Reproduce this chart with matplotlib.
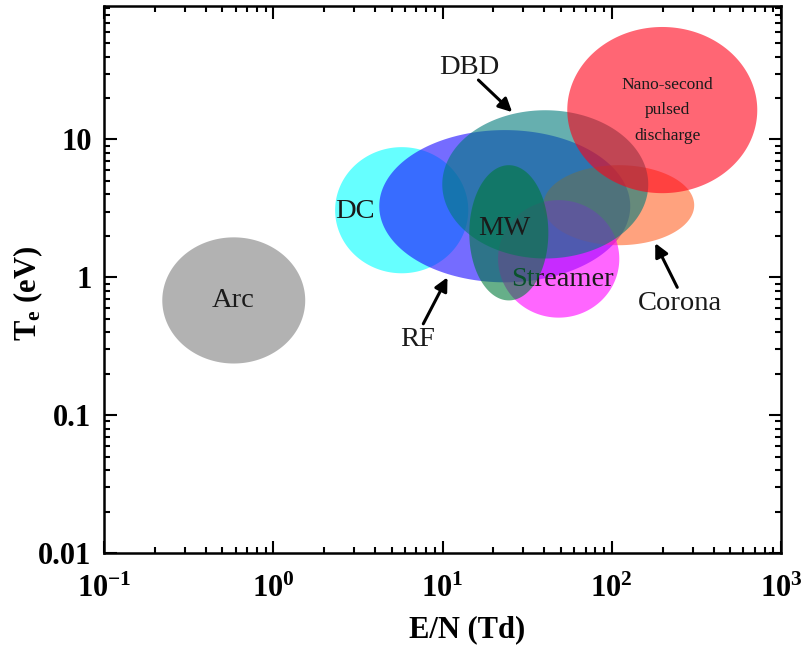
import numpy as np
import matplotlib
matplotlib.use("Agg")
import matplotlib.pyplot as plt
from matplotlib.ticker import FixedLocator, FixedFormatter, LogLocator, NullFormatter

plt.rcParams['font.family'] = ['Liberation Serif', 'DejaVu Serif']
plt.rcParams['mathtext.fontset'] = 'custom'
plt.rcParams['mathtext.rm'] = 'Liberation Serif:bold'
plt.rcParams['mathtext.it'] = 'Liberation Serif:bold'
plt.rcParams['mathtext.bf'] = 'Liberation Serif:bold'
plt.rcParams['axes.unicode_minus'] = False

# Discharge regions: ranges of E/N (Td) and Te (eV)
names    = ["Arc", "DC", "RF", "Corona", "Streamer", "DBD", "MW", "Nano"]
en_min   = [0.221, 2.32, 4.23, 39.4, 21.3, 9.97, 14.4, 54.6]
en_max   = [1.545, 14.2, 128.6, 307.0, 110.8, 164.3, 42.2, 724.0]
te_min   = [0.237, 1.07, 0.92, 1.71, 0.51, 1.37, 0.68, 4.08]
te_max   = [1.95, 8.8, 11.7, 6.51, 3.63, 16.3, 6.51, 65.5]
colors   = ["#808080", "#00FFFF", "#1a0aff", "#FF6428", "#FF00FF", "#007a7a", "#007a3a", "#FF0018"]
layer    = [1.0, 1.1, 1.2, 1.3, 1.4, 1.5, 1.7, 1.9]

xticks = [0.1, 1, 10, 100, 1000]
xticklabels = [r"$10^{-1}$", r"$10^{0}$", r"$10^{1}$", r"$10^{2}$", r"$10^{3}$"]
yticks = [0.01, 0.1, 1, 10]
yticklabels = ["0.01", "0.1", "1", "10"]

fig = plt.figure(figsize=(8.02, 6.51), dpi=100)
ax = fig.add_axes([104/802, 1-553/651, 677/802, 547/651])
ax.set_xscale('log')
ax.set_yscale('log')
ax.set_xlim(0.1, 1000)
ax.set_ylim(0.01, 93)

t = np.linspace(0, 2*np.pi, 400)
for n, x0, x1, y0, y1, c, z in zip(names, en_min, en_max, te_min, te_max, colors, layer):
    lx0, lx1, ly0, ly1 = np.log10([x0, x1, y0, y1])
    cx, cy = (lx0+lx1)/2, (ly0+ly1)/2
    a, b = (lx1-lx0)/2, (ly1-ly0)/2
    ax.fill(10**(cx + a*np.cos(t)), 10**(cy + b*np.sin(t)), color=c, alpha=0.6, lw=0, zorder=z)

tc = '#1a1a1a'
fs = 20.5
ax.text(0.58, 0.68, "Arc", fontsize=fs, ha='center', va='center', color=tc, zorder=3)
ax.text(3.05, 3.0, "DC", fontsize=fs, ha='center', va='center', color=tc, zorder=3)
ax.text(51, 0.97, "Streamer", fontsize=fs, ha='center', va='center', color=tc, zorder=1.6)
ax.text(23.2, 2.25, "MW", fontsize=fs, ha='center', va='center', color=tc, zorder=1.8)
ax.text(212.8, 16.3, "Nano-second\npulsed\ndischarge", fontsize=12.5, ha='center', va='center',
        color=tc, linespacing=1.8, zorder=3)
ap = dict(arrowstyle='-|>', lw=2.2, color='black', mutation_scale=20, shrinkA=0, shrinkB=0)
ax.text(14.4, 33.5, "DBD", fontsize=fs, ha='center', va='center', color=tc, zorder=3)
ax.annotate("", xy=(25.8, 15.8), xytext=(16.3, 27), arrowprops=ap, zorder=3)
ax.text(7.1, 0.355, "RF", fontsize=fs, ha='center', va='center', color=tc, zorder=3)
ax.annotate("", xy=(10.7, 1.0), xytext=(7.7, 0.46), arrowprops=ap, zorder=3)
ax.text(252, 0.65, "Corona", fontsize=fs, ha='center', va='center', color=tc, zorder=3)
ax.annotate("", xy=(180.7, 1.77), xytext=(243.8, 0.846), arrowprops=ap, zorder=3)

ax.xaxis.set_major_locator(FixedLocator(xticks))
ax.xaxis.set_major_formatter(FixedFormatter(xticklabels))
ax.xaxis.set_minor_locator(LogLocator(base=10, subs=np.arange(2, 10), numticks=20))
ax.xaxis.set_minor_formatter(NullFormatter())
ax.yaxis.set_major_locator(FixedLocator(yticks))
ax.yaxis.set_major_formatter(FixedFormatter(yticklabels))
ax.yaxis.set_minor_locator(LogLocator(base=10, subs=np.arange(2, 10), numticks=20))
ax.yaxis.set_minor_formatter(NullFormatter())

ax.tick_params(which='both', direction='in', top=True, right=True, width=1.5, colors='black')
ax.tick_params(which='major', length=9)
ax.tick_params(which='minor', length=4.5)
ax.tick_params(axis='x', which='major', pad=16, labelsize=22)
ax.tick_params(axis='y', which='major', pad=9, labelsize=22)
for lab in ax.get_yticklabels() + ax.get_xticklabels():
    lab.set_fontweight('bold')
for s in ax.spines.values():
    s.set_linewidth(1.8)

ax.set_xlabel("E/N (Td)", fontsize=22, fontweight='bold')
ax.xaxis.set_label_coords(0.537, -0.141)
ax.xaxis.label.set_va('center')
ax.set_ylabel(r"$\mathrm{T_e}$ (eV)", fontsize=22, fontweight='bold')
ax.yaxis.set_label_coords(-0.112, 0.475)
ax.yaxis.label.set_va('center')

fig.savefig("out.png", dpi=100)
